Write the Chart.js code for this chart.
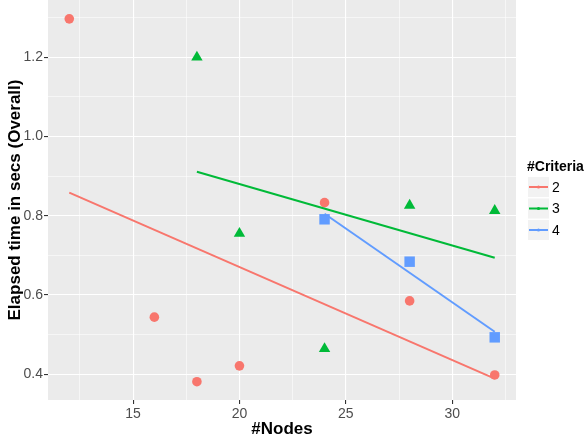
<!DOCTYPE html>
<html>
<head>
<meta charset="utf-8">
<script src="https://cdn.jsdelivr.net/npm/chart.js@4"></script>
<style>
  html, body { margin: 0; padding: 0; background: #ffffff; }
  #wrap { width: 586px; height: 441px; }
</style>
</head>
<body>
<div id="wrap"><canvas id="chart"></canvas></div>
<script>
// values
const nodes2 = [12, 16, 18, 20, 24, 28, 32];
const time2 = [1.297, 0.544, 0.381, 0.421, 0.833, 0.585, 0.398];
const nodes3 = [18, 20, 24, 28, 32];
const time3 = [1.200, 0.755, 0.464, 0.826, 0.813];
const nodes4 = [24, 28, 32];
const time4 = [0.791, 0.684, 0.493];

const criteria = ["2", "3", "4"];
const colors = ["#F8766D", "#00BA38", "#619CFF"];

const xMajor = [15, 20, 25, 30];
const xMinor = [12.5, 17.5, 22.5, 27.5, 32.5];
const yMajor = [0.4, 0.6, 0.8, 1.0, 1.2];
const yMinor = [0.5, 0.7, 0.9, 1.1, 1.3];

const FONT = '"Liberation Sans", Arial, sans-serif';

function points(xs, ys) {
	return xs.map((x, i) => ({ x: x, y: ys[i] }));
}

// least squares line over the range of the points (like geom_smooth(method = "lm"))
function fitLine(xs, ys) {
	const n = xs.length;
	const mx = xs.reduce((a, b) => a + b, 0) / n;
	const my = ys.reduce((a, b) => a + b, 0) / n;
	let sxy = 0, sxx = 0;
	for (let i = 0; i < n; i++) {
		sxy += (xs[i] - mx) * (ys[i] - my);
		sxx += (xs[i] - mx) * (xs[i] - mx);
	}
	const b = sxy / sxx;
	const x0 = Math.min(...xs), x1 = Math.max(...xs);
	return [{ x: x0, y: my + b * (x0 - mx) }, { x: x1, y: my + b * (x1 - mx) }];
}

const panelPlugin = {
	id: "panel",
	beforeDraw(chart) {
		const a = chart.chartArea;
		const ctx = chart.ctx;
		ctx.save();
		ctx.fillStyle = "#EBEBEB";
		ctx.fillRect(a.left, a.top, a.right - a.left, a.bottom - a.top);
		ctx.restore();
	},
	afterDraw(chart) {
		const a = chart.chartArea;
		const ctx = chart.ctx;
		ctx.save();
		// axis titles
		ctx.fillStyle = "#000000";
		ctx.font = "bold 17px " + FONT;
		ctx.textAlign = "center";
		ctx.textBaseline = "middle";
		ctx.fillText("#Nodes", (a.left + a.right) / 2, 429);
		ctx.save();
		ctx.translate(15, (a.top + a.bottom) / 2);
		ctx.rotate(-Math.PI / 2);
		ctx.fillText("Elapsed time in secs (Overall)", 0, 0);
		ctx.restore();

		// legend
		ctx.textAlign = "left";
		ctx.textBaseline = "alphabetic";
		ctx.font = "bold 14px " + FONT;
		ctx.fillText("#Criteria", 527, 171);
		ctx.font = "14px " + FONT;
		criteria.forEach((c, i) => {
			const cy = 187 + i * 21.5;
			ctx.fillStyle = "#F2F2F2";
			ctx.fillRect(528, cy - 10, 21, 20);
			ctx.strokeStyle = colors[i];
			ctx.lineWidth = 2;
			ctx.beginPath();
			ctx.moveTo(529, cy);
			ctx.lineTo(548, cy);
			ctx.stroke();
			ctx.fillStyle = colors[i];
			ctx.beginPath();
			ctx.arc(538.5, cy, 1.6, 0, Math.PI * 2);
			ctx.fill();
			ctx.fillStyle = "#000000";
			ctx.textBaseline = "middle";
			ctx.fillText(c, 552, cy + 1);
		});
		ctx.restore();
	}
};

const pointSets = [
	{ data: points(nodes2, time2), style: "circle", radius: 4.8 },
	{ data: points(nodes3, time3), style: "triangle", radius: 6.6 },
	{ data: points(nodes4, time4), style: "rect", radius: 7.4 },
];
const fits = [fitLine(nodes2, time2), fitLine(nodes3, time3), fitLine(nodes4, time4)];

const datasets = [];
fits.forEach((f, i) => {
	datasets.push({
		type: "line",
		label: "fit " + criteria[i],
		data: f,
		borderColor: colors[i],
		borderWidth: 2,
		pointRadius: 0,
		fill: false,
	});
});
pointSets.forEach((p, i) => {
	datasets.push({
		type: "scatter",
		label: criteria[i],
		data: p.data,
		pointStyle: p.style,
		pointRadius: p.radius,
		backgroundColor: colors[i],
		borderColor: colors[i],
		borderWidth: 0,
	});
});

function gridWidth(majors) {
	return (ctx) => (ctx.tick && majors.includes(ctx.tick.value)) ? 1.1 : 0.55;
}
function tickColor(majors) {
	return (ctx) => (ctx.tick && majors.includes(ctx.tick.value)) ? "#333333" : "rgba(0,0,0,0)";
}

new Chart(document.getElementById("chart"), {
	type: "scatter",
	data: { datasets: datasets },
	plugins: [panelPlugin],
	options: {
		responsive: true,
		maintainAspectRatio: false,
		animation: false,
		layout: { autoPadding: false, padding: { left: 0, right: 70, top: 0, bottom: 0 } },
		plugins: {
			legend: { display: false },
			tooltip: { enabled: false },
		},
		scales: {
			x: {
				type: "linear",
				min: 11,
				max: 33,
				border: { display: false },
				grid: {
					color: "#FFFFFF",
					lineWidth: gridWidth(xMajor),
					tickColor: tickColor(xMajor),
					tickLength: 4,
					drawTicks: true,
				},
				afterBuildTicks(scale) {
					scale.ticks = xMinor.concat(xMajor).sort((a, b) => a - b).map(v => ({ value: v }));
				},
				afterFit(scale) {
					scale.height = 41;
					scale.paddingLeft = 0;
					scale.paddingRight = 0;
				},
				ticks: {
					autoSkip: false,
					maxRotation: 0,
					padding: 2,
					color: "#4D4D4D",
					font: { family: FONT, size: 14 },
					callback: (v) => xMajor.includes(v) ? String(v) : "",
				},
			},
			y: {
				type: "linear",
				min: 0.3348,
				max: 1.3446,
				border: { display: false },
				grid: {
					color: "#FFFFFF",
					lineWidth: gridWidth(yMajor),
					tickColor: tickColor(yMajor),
					tickLength: 4,
					drawTicks: true,
				},
				afterBuildTicks(scale) {
					scale.ticks = yMinor.concat(yMajor).sort((a, b) => a - b).map(v => ({ value: v }));
				},
				afterFit(scale) {
					scale.width = 48;
					scale.paddingTop = 0;
					scale.paddingBottom = 0;
				},
				ticks: {
					autoSkip: false,
					padding: 1,
					color: "#4D4D4D",
					font: { family: FONT, size: 14 },
					callback: (v) => yMajor.includes(v) ? v.toFixed(1) : "",
				},
			},
		},
	},
});
</script>
</body>
</html>
